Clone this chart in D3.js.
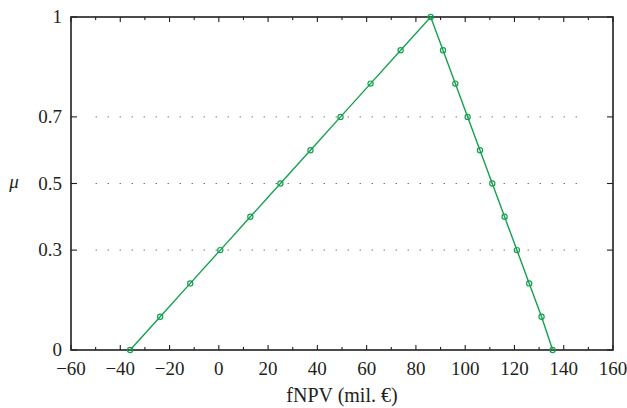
<!DOCTYPE html>
<html>
<head>
<meta charset="utf-8">
<script src="https://cdn.jsdelivr.net/npm/d3@7"></script>
<style>
  html, body { margin: 0; padding: 0; background: #fff; }
  svg text { font-family: "Times New Roman", "Liberation Serif", Times, serif; fill: #231f20; }
</style>
</head>
<body>
<svg id="chart" width="627" height="408"></svg>
<script>
// membership function points (fNPV in mil. €, mu)
const leftX = [-36, -23.8, -11.6, 0.6, 12.8, 25, 37.2, 49.4, 61.6, 73.8, 86];
const leftMu = [0, 0.1, 0.2, 0.3, 0.4, 0.5, 0.6, 0.7, 0.8, 0.9, 1];
const rightX = [91, 96, 101, 106, 111, 116, 121, 126, 131, 135.5];
const rightMu = [0.9, 0.8, 0.7, 0.6, 0.5, 0.4, 0.3, 0.2, 0.1, 0];

const xTicks = [-60, -40, -20, 0, 20, 40, 60, 80, 100, 120, 140, 160];
const yTicks = [0, 0.3, 0.5, 0.7, 1];
const gridLevels = [0.3, 0.5, 0.7];

const points = leftX.map((x, i) => ({ x, mu: leftMu[i] }))
  .concat(rightX.map((x, i) => ({ x, mu: rightMu[i] })));

const svg = d3.select("#chart");
const margin = { left: 71, right: 14, top: 17, bottom: 58 };
const width = 627, height = 408;

const x = d3.scaleLinear().domain([-60, 160]).range([margin.left, width - margin.right]);
const y = d3.scaleLinear().domain([0, 1]).range([height - margin.bottom, margin.top]);

const green = "#14a14f";
const ink = "#231f20";

// dotted guides
svg.append("g")
  .selectAll("line")
  .data(gridLevels)
  .join("line")
  .attr("x1", x(-50))
  .attr("x2", x(146))
  .attr("y1", (d) => y(d))
  .attr("y2", (d) => y(d))
  .attr("stroke", "#555")
  .attr("stroke-width", 1)
  .attr("stroke-dasharray", "1.2,10.8");

// frame
svg.append("rect")
  .attr("x", x(-60))
  .attr("y", y(1))
  .attr("width", x(160) - x(-60))
  .attr("height", y(0) - y(1))
  .attr("fill", "none")
  .attr("stroke", ink)
  .attr("stroke-width", 1.6);

// x ticks (inward on bottom and top)
const minorX = d3.range(-60, 161, 10);
const tickG = svg.append("g").attr("stroke", ink).attr("stroke-width", 1.1);
minorX.forEach((v) => {
  const len = v % 20 === 0 ? 5 : 3;
  tickG.append("line").attr("x1", x(v)).attr("x2", x(v)).attr("y1", y(0)).attr("y2", y(0) - len);
  tickG.append("line").attr("x1", x(v)).attr("x2", x(v)).attr("y1", y(1)).attr("y2", y(1) + len);
});
yTicks.forEach((v) => {
  tickG.append("line").attr("x1", x(-60)).attr("x2", x(-60) + 6).attr("y1", y(v)).attr("y2", y(v));
  tickG.append("line").attr("x1", x(160)).attr("x2", x(160) - 6).attr("y1", y(v)).attr("y2", y(v));
});

// tick labels
svg.append("g")
  .selectAll("text")
  .data(xTicks)
  .join("text")
  .attr("x", (d) => x(d))
  .attr("y", y(0) + 25)
  .attr("text-anchor", "middle")
  .attr("font-size", 19)
  .text((d) => (d < 0 ? "\u2212" + Math.abs(d) : d));

svg.append("g")
  .selectAll("text")
  .data(yTicks)
  .join("text")
  .attr("x", x(-60) - 9)
  .attr("y", (d) => y(d) + 6)
  .attr("text-anchor", "end")
  .attr("font-size", 19)
  .text((d) => d);

// axis titles
svg.append("text")
  .attr("x", (x(-60) + x(160)) / 2)
  .attr("y", 402)
  .attr("text-anchor", "middle")
  .attr("font-size", 20)
  .text("fNPV (mil. \u20ac)");

svg.append("text")
  .attr("x", 14)
  .attr("y", y(0.5) + 4)
  .attr("text-anchor", "middle")
  .attr("font-size", 19)
  .attr("font-style", "italic")
  .text("\u03bc");

// series
const line = d3.line().x((d) => x(d.x)).y((d) => y(d.mu));
svg.append("path")
  .datum(points)
  .attr("d", line)
  .attr("fill", "none")
  .attr("stroke", green)
  .attr("stroke-width", 1.4);

svg.append("g")
  .selectAll("circle")
  .data(points)
  .join("circle")
  .attr("cx", (d) => x(d.x))
  .attr("cy", (d) => y(d.mu))
  .attr("r", 2.6)
  .attr("fill", "none")
  .attr("stroke", green)
  .attr("stroke-width", 1.2);
</script>
</body>
</html>
